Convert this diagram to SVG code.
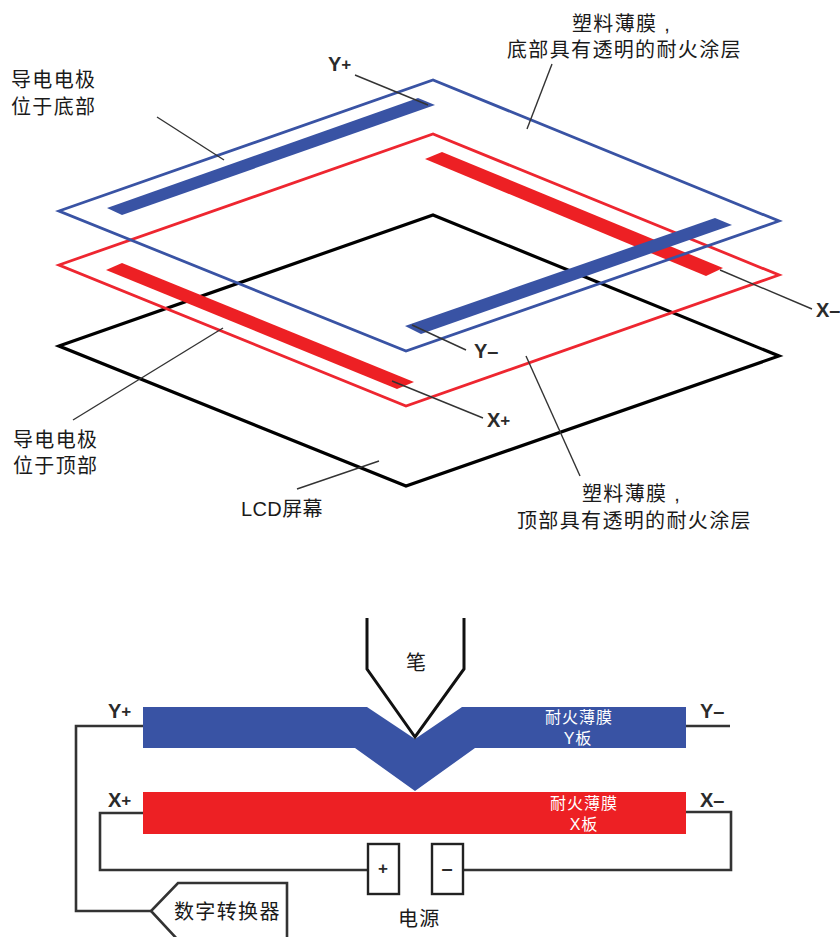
<svg xmlns="http://www.w3.org/2000/svg" width="840" height="937" viewBox="0 0 840 937">
<style>
text{font-family:"Liberation Sans","Noto Sans CJK SC",sans-serif;fill:#1a1a1a}
.c{font-size:20px;letter-spacing:1.35px}
.w{font-size:16px;fill:#fff;letter-spacing:1px;text-anchor:middle}
.t{font-size:20px;font-weight:bold;fill:#2b2b2b}
.s{font-size:17px}
.p{fill:none;stroke-width:2.8}
.lead{fill:none;stroke:#333;stroke-width:1.4}
.wire{fill:none;stroke:#333;stroke-width:2.6}
.ink{fill:none;stroke:#111;stroke-width:3}
.blue{fill:#3953a4}
.red{fill:#ed2024}
</style>
<rect width="840" height="937" fill="#fff"/>
<g id="lcd-screen"><polygon class="p" stroke="#000" style="stroke-width:3.2" points="59,346 433,215 779,356 406,486"/></g>
<g id="top-film"><polygon class="p" stroke="#ee2630" points="59,265 433,134 779,275 406,406"/>
<polygon class="red" points="106,270 122,263 414,382 397,389"/>
<polygon class="red" points="425,159 442,152 723,268 706,276"/></g>
<g id="bottom-film"><polygon class="p" stroke="#3953a4" points="59,211 433,80 779,221 406,351"/>
<polygon class="blue" points="107,208 122,215 435,105 418,98"/>
<polygon class="blue" points="405,326 715,218 732,225 421,334"/></g>
<g id="leaders">
<path class="lead" d="M157,117L224,160"/>
<path class="lead" d="M355,75L428,105"/>
<path class="lead" d="M552,64L527,129"/>
<path class="lead" d="M73,420L223,328"/>
<path class="lead" d="M392,381L483,418"/>
<path class="lead" d="M720,270L812,309"/>
<path class="lead" d="M412,325L466,350"/>
<path class="lead" d="M526,356L580,476"/>
<path class="lead" d="M297,489L379,461"/>
</g>
<g id="labels-upper">
<text class="c" x="11" y="87">导电电极</text>
<text class="c" x="11" y="114">位于底部</text>
<text class="c" x="572" y="31">塑料薄膜 ,</text>
<text class="c" x="507" y="57">底部具有透明的耐火涂层</text>
<text class="c" x="13" y="447">导电电极</text>
<text class="c" x="13" y="473">位于顶部</text>
<text class="c" x="582" y="501">塑料薄膜 ,</text>
<text class="c" x="517" y="528">顶部具有透明的耐火涂层</text>
<text class="c" x="241" y="516" style="letter-spacing:.4px">LCD屏幕</text>
<text class="t" x="328" y="71">Y<tspan class="s" dy="-1.5">+</tspan></text>
<text class="t" x="487" y="427">X<tspan class="s" dy="-1.5">+</tspan></text>
<text class="t" x="474" y="358">Y–</text>
<text class="t" x="816" y="317">X–</text>
</g>
<g id="connectors">
<path class="wire" d="M143,726H76V911H151"/>
<path class="wire" d="M143,813H100V870H368"/>
<path class="wire" d="M463,870H731V812H686"/>
<path class="wire" d="M686,726H730"/>
</g>
<g id="y-plate"><polygon class="blue" points="143,707 367,707 415,739 462,707 686,707 686,748 475,748 415,791 355,748 143,748"/>
<text class="w" x="579" y="723">耐火薄膜</text><text class="w" x="578" y="744">Y板</text></g>
<g id="x-plate"><rect class="red" x="143" y="792" width="543" height="42"/>
<text class="w" x="584" y="809">耐火薄膜</text><text class="w" x="584" y="830">X板</text></g>
<g id="pen"><path class="ink" d="M367,618V669L415,737L464,669V618"/>
<text class="c" x="406" y="670">笔</text></g>
<g id="plus"><rect x="368" y="844" width="31" height="50" fill="#fff" stroke="#222" stroke-width="2.4"/>
<text class="t s" x="383" y="874" text-anchor="middle">+</text></g>
<g id="minus"><rect x="432" y="844" width="31" height="50" fill="#fff" stroke="#222" stroke-width="2.4"/>
<text class="t" x="447" y="875" text-anchor="middle">–</text></g>
<g id="power"><text class="c" x="398" y="926">电源</text></g>
<g id="digitizer"><path class="wire" d="M178,940L151,911L178,883H287V940"/>
<text class="c" x="174" y="919">数字转换器</text></g>
<g id="labels-lower">
<text class="t" x="108" y="718">Y<tspan class="s" dy="-1.5">+</tspan></text>
<text class="t" x="108" y="807">X<tspan class="s" dy="-1.5">+</tspan></text>
<text class="t" x="700" y="718">Y–</text>
<text class="t" x="700" y="807">X–</text>
</g>
</svg>
